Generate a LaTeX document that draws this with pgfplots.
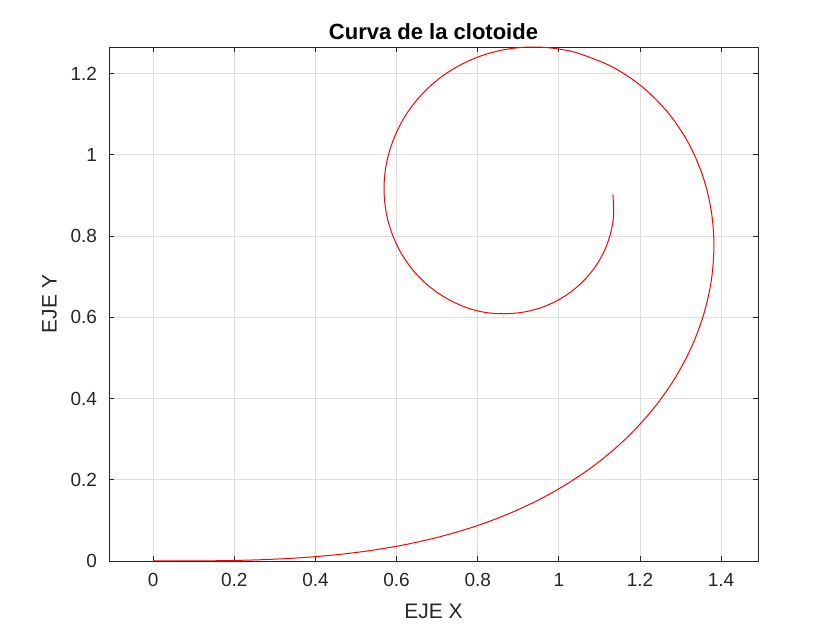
\documentclass[border=0pt]{standalone}
\usepackage{pgfplots}
\pgfplotsset{compat=1.18}
\usepackage{fontspec}
\setmainfont{Liberation Sans}
\definecolor{axgray}{rgb}{0.15,0.15,0.15}
\definecolor{gridgray}{rgb}{0.87,0.87,0.87}
\begin{document}
\begin{tikzpicture}
\useasboundingbox (0pt,0pt) rectangle (420pt,315pt);
\begin{axis}[
  at={(54.5pt,34.5pt)}, anchor=south west,
  scale only axis, width=324.5pt, height=257pt,
  xmin=-0.109, xmax=1.491, ymin=0, ymax=1.2655,
  xtick={0,0.2,0.4,0.6,0.8,1,1.2,1.4},
  ytick={0,0.2,0.4,0.6,0.8,1,1.2},
  grid=major,
  major grid style={gridgray, line width=0.4pt},
  axis line style={axgray, line width=0.45pt},
  tick style={axgray, line width=0.45pt},
  major tick length=2.6pt,
  tick align=inside,
  xtick pos=both, ytick pos=both,
  tick label style={font=\fontsize{9.5}{11}\selectfont, text=axgray},
  xticklabel style={yshift=-2.5pt},
  yticklabel style={xshift=-2.5pt},
  /pgf/number format/assume math mode=true,
  xlabel={EJE X}, ylabel={EJE Y},
  label style={font=\fontsize{10.5}{12}\selectfont, text=axgray},
  xlabel style={yshift=-2pt},
  title={\textbf{Curva de la clotoide}},
  title style={font=\fontsize{11}{12}\selectfont, yshift=-6pt},
]
\addplot[red, line width=0.5pt, smooth, tension=0.55] coordinates {
(0,0) (0.08862,0.00012) (0.17723,0.00092) (0.26582,0.00313) (0.35435,0.00743)
(0.44269,0.01450) (0.53067,0.02503) (0.61807,0.03967) (0.70451,0.05913)
(0.78959,0.08394) (0.87265,0.11473) (0.95309,0.15192) (1.03000,0.19593)
(1.10246,0.24695) (1.16920,0.30511)
(1.22928,0.37027) (1.28120,0.44194) (1.32379,0.51966) (1.35561,0.60223)
(1.37553,0.68858) (1.38232,0.77679) (1.37526,0.86513) (1.35382,0.95092)
(1.31792,1.03196) (1.26808,1.10494) (1.20539,1.16758) (1.13180,1.21649)
(1.04954,1.24949) (1.00634,1.25942) (0.96262,1.26470) (0.91829,1.26504)
(0.87412,1.26043) (0.83085,1.25083) (0.78920,1.23628)
(0.74934,1.21692) (0.71189,1.19297) (0.67781,1.16464) (0.64776,1.13240)
(0.62171,1.09654) (0.60067,1.05732) (0.58461,1.01602) (0.57397,0.97343)
(0.56929,0.92936) (0.57059,0.88488) (0.57796,0.84119) (0.59134,0.79927)
(0.61050,0.75932) (0.63535,0.72235) (0.66511,0.68952) (0.69917,0.66175)
(0.73724,0.63904) (0.77828,0.62176) (0.82139,0.61151) (0.86539,0.60869)
(0.90956,0.61219) (0.95292,0.62264) (0.99376,0.63985) (1.03078,0.66338)
(1.06391,0.69282) (1.09189,0.72755) (1.11345,0.76626) (1.12779,0.80770)
(1.13505,0.85141) (1.13330,0.90270)
};
\end{axis}
\end{tikzpicture}
\end{document}
